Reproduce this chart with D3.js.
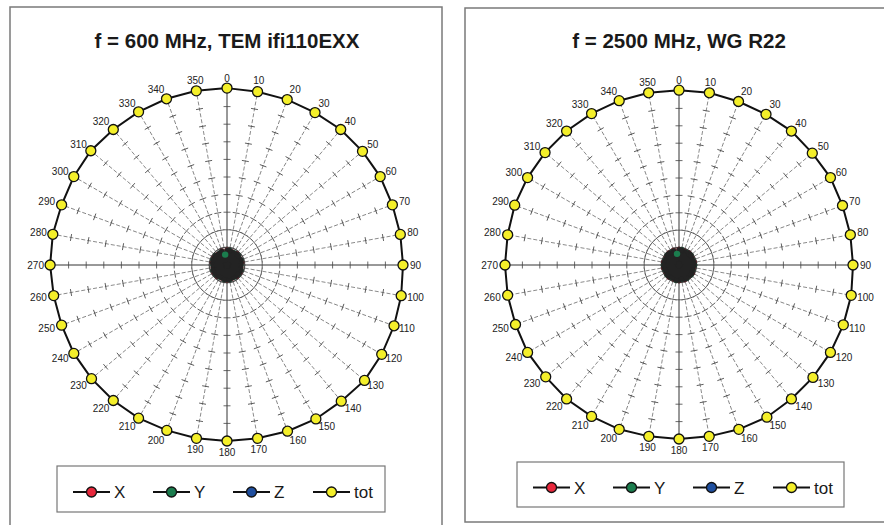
<!DOCTYPE html>
<html>
<head>
<meta charset="utf-8">
<script src="https://cdn.jsdelivr.net/npm/d3@7"></script>
<style>
  body { margin: 0; background: #fff; }
  svg { display: block; font-family: "Liberation Sans", Arial, sans-serif; }
</style>
</head>
<body>
<svg width="884" height="525"></svg>
<script>
// angles of the radar categories (deg)
var angles = d3.range(0, 360, 10);

// left panel: 600 MHz, TEM cell
var totLeft = [10.05, 10.0, 10.0, 10.0, 10.05, 10.05, 10.05, 10.0, 10.0, 10.0, 10.05, 10.1,
               10.15, 10.2, 10.1, 10.1, 10.05, 10.0, 10.0, 10.0, 10.0, 10.05, 10.05, 10.05,
               10.05, 10.0, 10.0, 10.05, 10.05, 10.0, 10.05, 10.1, 10.05, 10.05, 10.05, 10.05];
var xLeft = [0.85, 0.1, 0.8, 0.15, 0.85, 0.1, 0.8, 0.2, 0.85, 0.1, 0.8, 0.15, 0.85, 0.1, 0.85, 0.2, 0.8, 0.1,
             0.85, 0.15, 0.8, 0.1, 0.85, 0.2, 0.85, 0.1, 0.8, 0.15, 0.85, 0.1, 0.85, 0.2, 0.8, 0.1, 0.85, 0.25];
var yLeft = [0.1, 0.85, 0.2, 0.8, 0.1, 0.85, 0.15, 0.85, 0.1, 0.8, 0.2, 0.85, 0.1, 0.85, 0.15, 0.8, 0.1, 0.85,
             0.2, 0.85, 0.1, 0.8, 0.15, 0.85, 0.1, 0.85, 0.2, 0.8, 0.1, 0.85, 0.15, 0.85, 0.1, 0.8, 0.2, 0.6];
var zLeft = [0.4, 0.6, 0.3, 0.65, 0.45, 0.55, 0.35, 0.65, 0.4, 0.6, 0.3, 0.65, 0.45, 0.55, 0.35, 0.6, 0.4, 0.65,
             0.3, 0.6, 0.45, 0.55, 0.35, 0.65, 0.4, 0.6, 0.3, 0.65, 0.45, 0.55, 0.35, 0.6, 0.4, 0.65, 0.3, 0.6];

// right panel: 2500 MHz, waveguide R22
var totRight = [10.05, 10.05, 10.0, 10.0, 10.05, 10.0, 10.05, 10.0, 10.0, 10.0, 10.05, 10.05,
                10.05, 10.05, 10.05, 10.1, 10.05, 10.0, 10.0, 10.0, 10.05, 10.05, 10.05, 10.0,
                10.05, 10.0, 10.0, 10.0, 10.0, 10.05, 10.05, 10.05, 10.05, 10.05, 10.05, 10.05];
var xRight = [0.9, 0.15, 0.85, 0.1, 0.9, 0.2, 0.85, 0.1, 0.9, 0.15, 0.85, 0.1, 0.9, 0.2, 0.85, 0.1, 0.9, 0.15,
              0.9, 0.1, 0.85, 0.2, 0.9, 0.1, 0.85, 0.15, 0.9, 0.1, 0.9, 0.2, 0.85, 0.1, 0.9, 0.15, 0.9, 0.25];
var yRight = [0.15, 0.9, 0.1, 0.85, 0.2, 0.9, 0.1, 0.85, 0.15, 0.9, 0.1, 0.85, 0.2, 0.9, 0.1, 0.9, 0.15, 0.85,
              0.1, 0.9, 0.2, 0.85, 0.1, 0.9, 0.15, 0.85, 0.1, 0.9, 0.2, 0.85, 0.1, 0.9, 0.15, 0.85, 0.1, 0.65];
var zRight = [0.45, 0.6, 0.35, 0.65, 0.4, 0.6, 0.3, 0.65, 0.45, 0.55, 0.35, 0.65, 0.4, 0.6, 0.3, 0.65, 0.45, 0.55,
              0.35, 0.65, 0.4, 0.6, 0.3, 0.65, 0.45, 0.55, 0.35, 0.65, 0.4, 0.6, 0.3, 0.65, 0.45, 0.55, 0.35, 0.6];

var seriesNames = ["X", "Y", "Z", "tot"];
var seriesColors = ["#e8283c", "#1b7d4e", "#1f4f9f", "#f4ef2a"];
var radialTicks = d3.range(1, 11);

var panels = [
  { title: "f = 600 MHz, TEM ifi110EXX", box: [10, 7, 432, 530], cx: 227, cy: 265, R: 176,
    legend: [57, 466, 328, 46], series: [xLeft, yLeft, zLeft, totLeft] },
  { title: "f = 2500 MHz, WG R22", box: [465, 8, 432, 514], cx: 679, cy: 265, R: 174,
    legend: [517, 462, 327, 45], series: [xRight, yRight, zRight, totRight] }
];

var svg = d3.select("svg");

panels.forEach(function(p) {
  var g = svg.append("g");

  g.append("rect")
      .attr("x", p.box[0]).attr("y", p.box[1])
      .attr("width", p.box[2]).attr("height", p.box[3])
      .attr("fill", "#fff").attr("stroke", "#7a7a7a").attr("stroke-width", 1.5);

  g.append("text")
      .attr("x", p.cx).attr("y", 48)
      .attr("text-anchor", "middle")
      .attr("font-size", 20.5).attr("font-weight", "bold")
      .attr("fill", "#1a1a1a")
      .text(p.title);

  var r = d3.scaleLinear().domain([0, 10]).range([0, p.R]);
  var ang = d3.scaleLinear().domain([0, 360]).range([0, 2 * Math.PI]);

  var chart = g.append("g").attr("transform", "translate(" + p.cx + "," + p.cy + ")");

  // spokes
  var spoke = chart.selectAll(".spoke").data(angles).enter().append("g")
      .attr("class", "spoke")
      .attr("transform", function(d) { return "rotate(" + d + ")"; });

  spoke.append("line")
      .attr("x1", 0).attr("y1", 0)
      .attr("x2", 0).attr("y2", -r(10))
      .attr("stroke", function(d) { return d % 90 === 0 ? "#333" : "#777"; })
      .attr("stroke-width", function(d) { return d % 90 === 0 ? 1 : 0.8; })
      .attr("stroke-dasharray", function(d) { return d % 90 === 0 ? null : "4,2"; });

  // tick marks along each spoke
  spoke.selectAll(".tk").data(radialTicks).enter().append("line")
      .attr("class", "tk")
      .attr("x1", -3.5).attr("x2", 3.5)
      .attr("y1", function(d) { return -r(d); })
      .attr("y2", function(d) { return -r(d); })
      .attr("stroke", "#444").attr("stroke-width", 0.8);

  // category labels
  chart.selectAll(".lab").data(angles).enter().append("text")
      .attr("class", "lab")
      .attr("x", function(d) { return (r(10) + 7) * Math.sin(ang(d)); })
      .attr("y", function(d) { return -(r(10) + 11) * Math.cos(ang(d)); })
      .attr("dy", "0.35em")
      .attr("text-anchor", function(d) {
        var s = Math.sin(ang(d));
        return Math.abs(s) < 0.2 ? "middle" : (s > 0 ? "start" : "end");
      })
      .attr("font-size", 10).attr("fill", "#222")
      .text(function(d) { return d; });

  var radar = d3.lineRadial()
      .angle(function(d, i) { return ang(angles[i]); })
      .radius(function(d) { return r(d); })
      .curve(d3.curveLinearClosed);

  // X, Y, Z (near zero): markers first, lines on top -> dark blob
  p.series.slice(0, 3).forEach(function(vals, si) {
    chart.append("g").selectAll("circle").data(vals).enter().append("circle")
        .attr("cx", function(d, i) { return r(d) * Math.sin(ang(angles[i])); })
        .attr("cy", function(d, i) { return -r(d) * Math.cos(ang(angles[i])); })
        .attr("r", 2.5)
        .attr("fill", seriesColors[si]).attr("stroke", "#222").attr("stroke-width", 0.6);
  });
  p.series.slice(0, 3).forEach(function(vals) {
    chart.append("path")
        .attr("d", radar(vals))
        .attr("fill", "none").attr("stroke", "#232323")
        .attr("stroke-width", 4.5).attr("stroke-linejoin", "round");
  });
  // visible Y marker on top
  chart.append("circle")
      .attr("cx", r(p.series[1][35]) * Math.sin(ang(350)))
      .attr("cy", -r(p.series[1][35]) * Math.cos(ang(350)))
      .attr("r", 3.2).attr("fill", seriesColors[1]);

  // tot
  var tot = p.series[3];
  chart.append("path")
      .attr("d", radar(tot))
      .attr("fill", "none").attr("stroke", "#111").attr("stroke-width", 2);
  chart.append("g").selectAll("circle").data(tot).enter().append("circle")
      .attr("cx", function(d, i) { return r(d) * Math.sin(ang(angles[i])); })
      .attr("cy", function(d, i) { return -r(d) * Math.cos(ang(angles[i])); })
      .attr("r", 5)
      .attr("fill", seriesColors[3]).attr("stroke", "#111").attr("stroke-width", 1.3);

  // legend
  var lg = g.append("g");
  lg.append("rect")
      .attr("x", p.legend[0]).attr("y", p.legend[1])
      .attr("width", p.legend[2]).attr("height", p.legend[3])
      .attr("fill", "#fff").attr("stroke", "#777").attr("stroke-width", 1.2);

  var item = lg.selectAll(".item").data(seriesNames).enter().append("g")
      .attr("class", "item")
      .attr("transform", function(d, i) {
        return "translate(" + (p.legend[0] + 16 + i * 80) + "," + (p.legend[1] + p.legend[3] / 2 + 3) + ")";
      });
  item.append("line")
      .attr("x1", 0).attr("x2", 37).attr("y1", 0).attr("y2", 0)
      .attr("stroke", "#111").attr("stroke-width", 2);
  item.append("circle")
      .attr("cx", 18.5).attr("cy", 0).attr("r", 5)
      .attr("fill", function(d, i) { return seriesColors[i]; })
      .attr("stroke", "#111").attr("stroke-width", 1.3);
  item.append("text")
      .attr("x", 41).attr("y", 0).attr("dy", "0.36em")
      .attr("font-size", 17).attr("fill", "#1a1a1a")
      .text(function(d) { return d; });
});
</script>
</body>
</html>
